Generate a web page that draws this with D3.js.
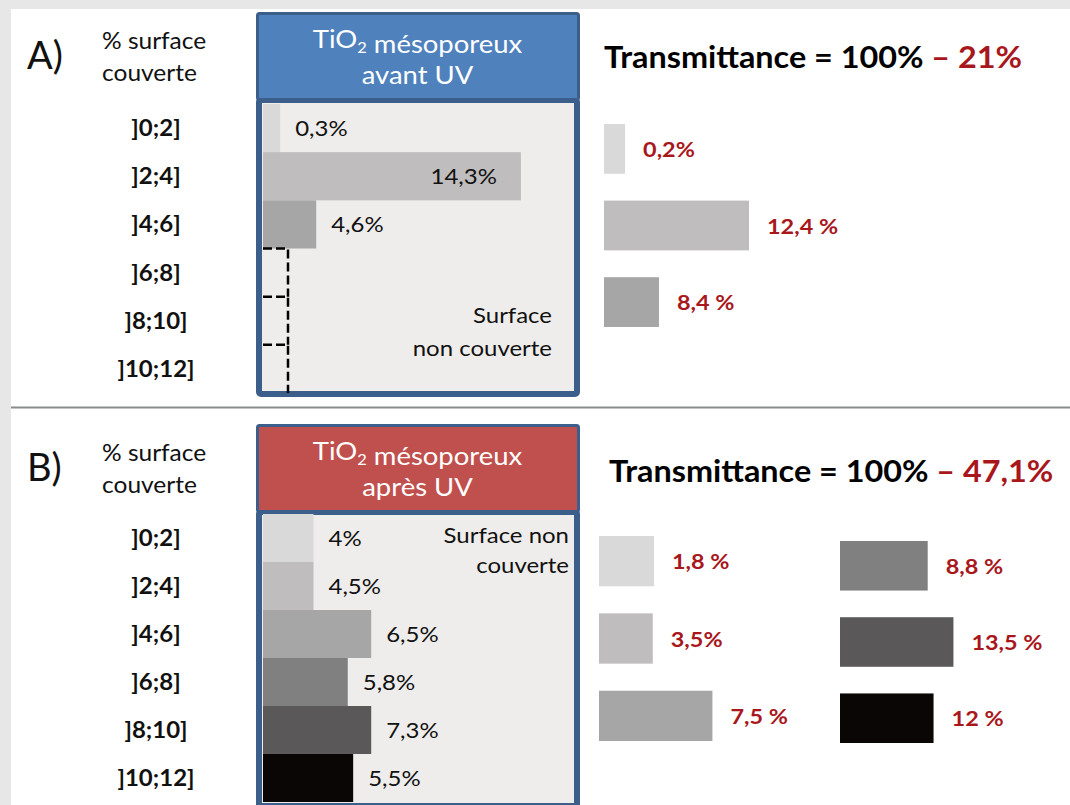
<!DOCTYPE html>
<html>
<head>
<meta charset="utf-8">
<script src="https://cdn.jsdelivr.net/npm/d3@7"></script>
<style>
  html, body { margin: 0; padding: 0; background: #ffffff; }
  svg { display: block; font-family: Lato, "Open Sans", sans-serif; }
</style>
</head>
<body>
<svg id="chart" width="1070" height="805"></svg>
<script>
// ---------------- data ----------------
const categories = [']0;2]', ']2;4]', ']4;6]', ']6;8]', ']8;10]', ']10;12]'];

// Panel A: mesoporous TiO2 before UV (% surface covered per class)
const coverA = [0.3, 14.3, 4.6, null, null, null];
// bar lengths as drawn in the source (not drawn to scale there), same % units
const barA = [0.95, 14.3, 2.95, null, null, null];

// Panel B: after UV
const coverB = [4, 4.5, 6.5, 5.8, 7.3, 5.5];
const barB = [2.8, 2.8, 6.0, 4.7, 6.0, 5.0];

// Transmittance losses per class
const lossLabelsA = ['0,2%', '12,4 %', '8,4 %'];
const lossBarA = [1.8, 12.4, 4.7];
const lossLabelsB = ['1,8 %', '3,5%', '7,5 %', '8,8 %', '13,5 %', '12 %'];
const lossBarB = [4.7, 4.6, 9.7, 7.5, 9.7, 8.0];

const totalLossA = '21%';
const totalLossB = '47,1%';

const classColors = ['#d9d9d9', '#bfbdbd', '#a6a6a6', '#818080', '#5a5858', '#0a0605'];

// ---------------- helpers ----------------
const svg = d3.select('#chart');
const SX = 1.09;            // the source is slightly stretched horizontally
const RED = '#a8171c';
const BORDER = '#3b5e8b';

function fmt(v) { return String(v).replace('.', ',') + '%'; }

function txt(g, x, y, parts, o = {}) {
  const size = o.size || 21;
  const t = g.append('text')
    .attr('transform', `translate(${x},${y}) scale(${o.sx || SX},1)`)
    .attr('text-anchor', o.anchor || 'start')
    .attr('font-size', size)
    .attr('font-weight', o.weight || 400)
    .attr('fill', o.fill || '#111');
  (Array.isArray(parts) ? parts : [{ t: parts }]).forEach(p => {
    if (p.sub) {
      t.append('tspan').attr('font-size', size * 0.6).attr('dy', 5).text(p.t);
      t.append('tspan').attr('dy', -5).text('');
    } else {
      const s = t.append('tspan').text(p.t);
      if (p.fill) s.attr('fill', p.fill);
    }
  });
  return t;
}

// ---------------- frame ----------------
svg.append('rect').attr('width', 1070).attr('height', 805).attr('fill', '#e7e7e7');
svg.append('rect').attr('x', 11).attr('y', 9).attr('width', 1059).attr('height', 796).attr('fill', '#ffffff');
svg.append('line').attr('x1', 11).attr('x2', 1070).attr('y1', 407.5).attr('y2', 407.5)
  .attr('stroke', '#8a8c8c').attr('stroke-width', 2);

// shared scales
const xIn = d3.scaleLinear().domain([0, 17.3]).range([263, 575]);
const xLoss = d3.scaleLinear().domain([0, 12.4]).range([0, 145]);

function panel(cfg) {
  const g = svg.append('g');
  const rows = d3.scaleBand().domain(categories).range(cfg.rowRange).padding(0);

  // panel letter and left heading
  txt(g, 27, cfg.top + 57, cfg.letter, { size: 38, sx: 1.0 });
  txt(g, 102, cfg.top + 37, '% surface', { size: 22.5 });
  txt(g, 102, cfg.top + 69, 'couverte', { size: 22.5 });

  // category labels
  categories.forEach(c => {
    txt(g, 156, rows(c) + rows.bandwidth() / 2 + 8, c, { size: 22, weight: 700, anchor: 'middle' });
  });

  // box body
  g.append('rect').attr('x', 259).attr('y', cfg.top + 88).attr('width', 318)
    .attr('height', cfg.bodyBottom - (cfg.top + 88) - 3)
    .attr('rx', 2).attr('fill', '#eeedeb').attr('stroke', BORDER).attr('stroke-width', 6);

  // bars
  categories.forEach((c, i) => {
    const len = cfg.bars[i];
    const y0 = rows(c), h = rows.bandwidth();
    if (len == null) {
      const x1 = xIn(0) + 25;
      g.append('path')
        .attr('d', `M${xIn(0)},${y0}H${x1}V${y0 + h}`)
        .attr('fill', 'none').attr('stroke', '#000').attr('stroke-width', 2.5)
        .attr('stroke-dasharray', '9,4');
      return;
    }
    g.append('rect').attr('x', xIn(0)).attr('y', y0)
      .attr('width', xIn(len) - xIn(0)).attr('height', h)
      .attr('fill', classColors[i]);
    const v = cfg.values[i];
    if (len > 10) {
      txt(g, xIn(len) - 24, y0 + h / 2 + 8, fmt(v), { size: 22 , anchor: 'end' });
    } else {
      txt(g, xIn(len) + 15, y0 + h / 2 + 8, fmt(v), { size: 22 });
    }
  });

  // uncovered surface note
  cfg.note.forEach((line, k) => {
    txt(g, cfg.noteX, cfg.noteY + k * cfg.noteStep, line, { size: 22, anchor: 'end' });
  });

  // header
  g.append('rect').attr('x', 257.5).attr('y', cfg.top + 1.5).attr('width', 321).attr('height', 86)
    .attr('rx', 2).attr('fill', cfg.headFill).attr('stroke', BORDER).attr('stroke-width', 3);
  txt(g, 417.5, cfg.top + 36, [{ t: 'TiO' }, { t: '2', sub: true }, { t: ' mésoporeux' }],
    { size: 25.2, anchor: 'middle', fill: '#ffffff' });
  txt(g, 417.5, cfg.top + 72, cfg.headLine2, { size: 25.2, anchor: 'middle', fill: '#ffffff' });

  // transmittance headline
  txt(g, cfg.titleX, cfg.top + cfg.titleDy,
    [{ t: 'Transmittance = 100% ' }, { t: '– ' + cfg.total, fill: RED }],
    { size: 29.7, weight: 700, fill: '#000' });

  // loss bars
  cfg.lossCols.forEach(col => {
    const yb = d3.scaleBand().domain(col.idx).range(col.range).paddingInner(0.35).paddingOuter(0);
    col.idx.forEach(i => {
      const w = xLoss(cfg.lossBars[i]);
      g.append('rect').attr('x', col.x).attr('y', yb(i))
        .attr('width', w).attr('height', yb.bandwidth()).attr('fill', classColors[i]);
      txt(g, col.x + w + 18, yb(i) + yb.bandwidth() / 2 + 8, cfg.lossLabels[i],
        { size: 21.5, weight: 700, fill: RED });
    });
  });
}

panel({
  letter: 'A)', top: 12, rowRange: [104, 393], bodyBottom: 397,
  bars: barA, values: coverA,
  note: ['Surface', 'non couverte'], noteX: 552, noteY: 323, noteStep: 33,
  headFill: '#4f81bd', headLine2: 'avant UV',
  titleX: 604, titleDy: 56, total: totalLossA,
  lossBars: lossBarA, lossLabels: lossLabelsA,
  lossCols: [{ idx: [0, 1, 2], x: 604, range: [124, 327] }]
});

panel({
  letter: 'B)', top: 424, rowRange: [514, 802], bodyBottom: 809,
  bars: barB, values: coverB,
  note: ['Surface non', 'couverte'], noteX: 569, noteY: 543, noteStep: 30,
  headFill: '#c0504d', headLine2: 'après UV',
  titleX: 609, titleDy: 58, total: totalLossB,
  lossBars: lossBarB, lossLabels: lossLabelsB,
  lossCols: [{ idx: [0, 1, 2], x: 599, range: [536, 741] },
             { idx: [3, 4, 5], x: 840, range: [541, 743] }]
});
</script>
</body>
</html>
